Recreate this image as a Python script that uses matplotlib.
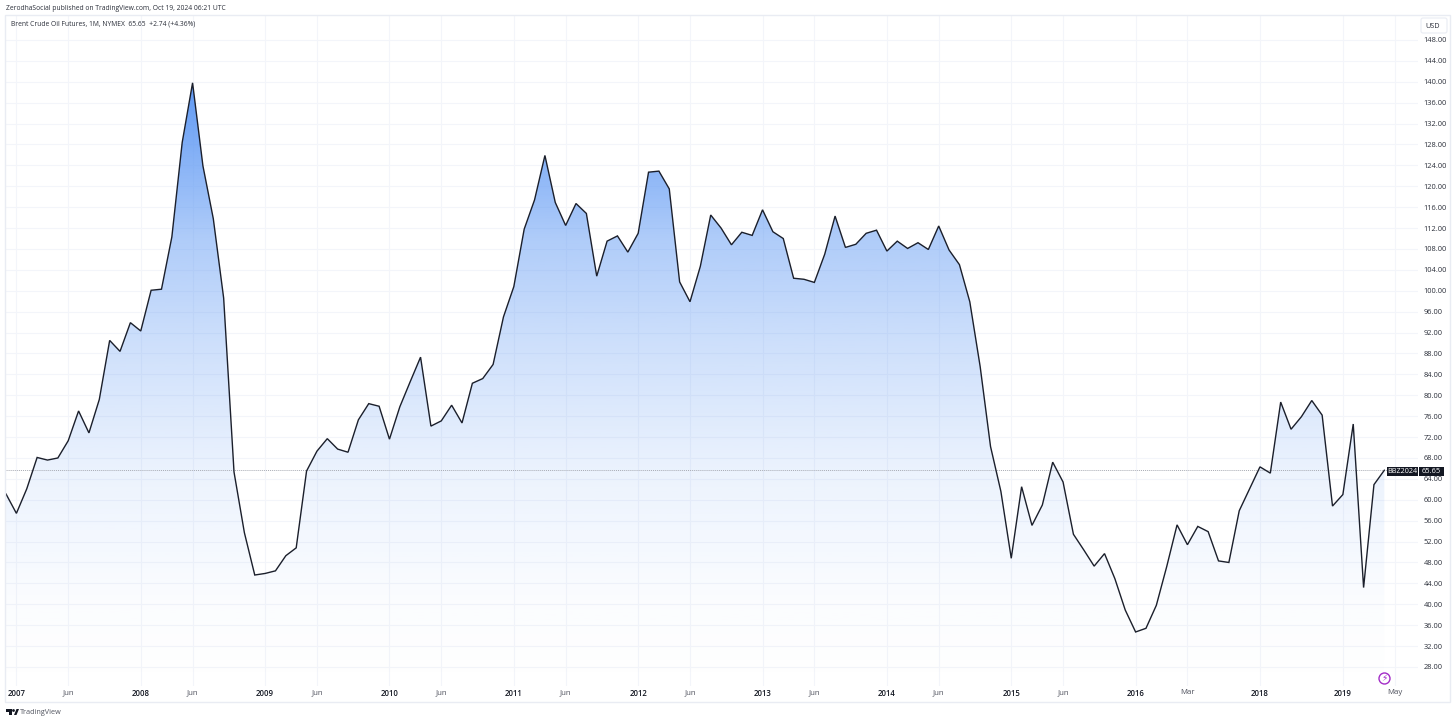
import numpy as np
import matplotlib
matplotlib.use('Agg')
import matplotlib.pyplot as plt
from matplotlib.patches import Polygon, Rectangle, Circle, FancyBboxPatch

plt.rcParams['font.family'] = ['Open Sans', 'DejaVu Sans']

W, H = 1456, 723

# monthly closes
prices = [61.1, 57.4, 62.1, 68.1, 67.6, 68.0, 71.3, 77.0, 72.8, 79.2, 90.5, 88.4,
          93.9, 92.3, 100.1, 100.3, 110.3, 128.4, 139.8, 123.9, 113.8, 98.6, 65.3, 53.7,
          45.6, 45.9, 46.4, 49.3, 50.8, 65.5, 69.3, 71.7, 69.7, 69.1, 75.3, 78.4,
          77.9, 71.6, 77.8, 82.6, 87.3, 74.1, 75.1, 78.1, 74.7, 82.3, 83.2, 85.9,
          95.0, 100.8, 111.8, 117.4, 125.9, 116.9, 112.5, 116.7, 114.8, 102.8, 109.5, 110.5,
          107.4, 111.0, 122.7, 122.9, 119.5, 101.7, 97.9, 104.7, 114.5, 112.0, 108.8, 111.2,
          110.6, 115.5, 111.3, 110.0, 102.4, 102.2, 101.6, 107.0, 114.3, 108.3, 108.9, 111.0,
          111.6, 107.6, 109.5, 108.1, 109.2, 107.9, 112.4, 107.8, 105.0, 97.9, 85.5, 70.2,
          61.6, 48.8, 62.5, 55.1, 59.0, 67.2, 63.4, 53.4, 50.4, 47.3, 49.7, 44.9,
          38.9, 34.7, 35.4, 39.8, 47.2, 55.2, 51.4, 54.9, 53.9, 48.3, 48.0, 57.9,
          62.1, 66.3, 65.1, 78.7, 73.5, 75.9, 79.0, 76.2, 58.8, 61.0, 74.5, 43.2,
          62.9, 65.65]

x_tick_pos = [1, 6, 13, 18, 25, 30, 37, 42, 49, 54, 61, 66, 73, 78, 85, 90, 97, 102, 109, 114, 121, 129, 134]
x_tick_labels = ['2007', 'Jun', '2008', 'Jun', '2009', 'Jun', '2010', 'Jun', '2011', 'Jun', '2012', 'Jun',
                 '2013', 'Jun', '2014', 'Jun', '2015', 'Jun', '2016', 'Mar', '2018', '2019', 'May']
y_ticks = list(range(28, 152, 4))
last_price = 65.65

fig = plt.figure(figsize=(W / 100, H / 100), dpi=100, facecolor='white')

# plot area spans px 5..1418 and 15..686
ax = fig.add_axes([5 / W, 1 - 686 / H, (1418 - 5) / W, (686 - 15) / H])
xs = np.arange(len(prices))
ax.set_xlim(-0.1, 136.25)
ax.set_ylim(24.36, 152.78)

ax.set_xticks(x_tick_pos)
ax.set_xticklabels(x_tick_labels, fontsize=5.6, color='#131722')
for lab, txt in zip(ax.get_xticklabels(), x_tick_labels):
    if txt.isdigit():
        lab.set_fontweight('semibold')
    else:
        lab.set_color('#50535e')
ax.yaxis.tick_right()
ax.set_yticks(y_ticks)
ax.set_yticklabels([f'{v:.2f}' for v in y_ticks], fontsize=5.4, color='#2a2e39')
ax.tick_params(axis='both', length=0)
ax.tick_params(axis='y', pad=4)
ax.tick_params(axis='x', pad=2)
ax.grid(True, color='#f3f5fa', linewidth=0.8)
ax.set_axisbelow(True)
for s in ax.spines.values():
    s.set_visible(False)

# gradient under the line
stops_v = [24.36, 40, 65, 90, 110, 140]
stops_a = [0.0, 0.025, 0.12, 0.31, 0.50, 1.0]
yy = np.linspace(24.36, 140, 400)
grad = np.zeros((400, 1, 4))
grad[..., 0] = 95 / 255
grad[..., 1] = 153 / 255
grad[..., 2] = 244 / 255
grad[:, 0, 3] = np.interp(yy, stops_v, stops_a)
im = ax.imshow(grad, origin='lower', aspect='auto', extent=(-0.1, 136.25, 24.36, 140), zorder=1.5)
ax.set_xlim(-0.1, 136.25)
ax.set_ylim(24.36, 152.78)
poly = np.column_stack([np.r_[xs, xs[-1], xs[0]], np.r_[prices, 24.36, 24.36]])
clip = Polygon(poly, closed=True, transform=ax.transData, facecolor='none', edgecolor='none')
ax.add_patch(clip)
im.set_clip_path(clip)

ax.plot(xs, prices, color='#1b1f2b', linewidth=1.0, zorder=3, solid_joinstyle='miter')
ax.axhline(last_price, color='#a8abb3', linewidth=0.7, linestyle=(0, (1, 1)), zorder=2.5)

# everything around the plot, in pixel coordinates
over = fig.add_axes([0, 0, 1, 1], facecolor='none')
over.set_xlim(0, W)
over.set_ylim(H, 0)
over.axis('off')

over.add_patch(Rectangle((5, 15), 1445, 687, fill=False, edgecolor='#e9ecf3', linewidth=1))
over.add_patch(FancyBboxPatch((1421, 18), 26, 15, boxstyle='round,pad=0,rounding_size=2',
                              facecolor='white', edgecolor='#e9ecf3', linewidth=0.8))
over.text(1433, 26, 'USD', fontsize=5.2, color='#2a2e39', ha='center', va='center')

over.text(6, 8, 'ZerodhaSocial published on TradingView.com, Oct 19, 2024 06:21 UTC',
          fontsize=4.9, color='#2a2e39', va='center')
over.text(11, 24, 'Brent Crude Oil Futures, 1M, NYMEX  65.65  +2.74 (+4.36%)',
          fontsize=4.9, color='#2a2e39', va='center')

over.add_patch(Rectangle((1387, 467), 31, 9, facecolor='#131722', edgecolor='none'))
over.add_patch(Rectangle((1419, 467), 25, 9, facecolor='#131722', edgecolor='none'))
over.text(1402.5, 471.5, 'BBZ2024', fontsize=5.2, color='white', ha='center', va='center')
over.text(1431.5, 471.5, '65.65', fontsize=5.4, color='white', ha='center', va='center')

over.add_patch(Circle((1384.5, 678.5), 5.5, facecolor='white', edgecolor='#a32dc7', linewidth=1))
over.text(1384.5, 678.5, '\u26a1', fontsize=6.5, color='#a32dc7', ha='center', va='center', family='DejaVu Sans')

# TradingView logo
over.add_patch(Polygon([(6, 709), (12, 709), (12, 715), (9, 715), (9, 712), (6, 712)], facecolor='#131722'))
over.add_patch(Circle((13.5, 710.5), 1.4, facecolor='#131722'))
over.add_patch(Polygon([(14, 715), (16.5, 709), (19, 709), (16.5, 715)], facecolor='#131722'))
over.text(20, 712.5, 'TradingView', fontsize=5.2, color='#50535e', va='center')

fig.savefig('out.png', dpi=100)
